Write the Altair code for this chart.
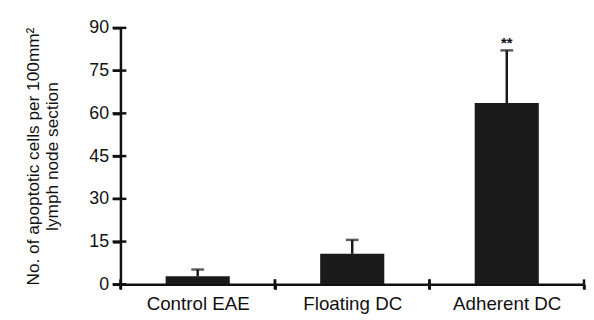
import altair as alt
import pandas as pd

categories = ["Control EAE", "Floating DC", "Adherent DC"]
means = [2.8, 10.7, 63.6]
upper = [5.2, 15.6, 82.1]
marks = ["", "", "**"]
y_ticks = [0, 15, 30, 45, 60, 75, 90]

df = pd.DataFrame({"cat": categories, "mean": means, "upper": upper, "mark": marks})
tick_df = pd.DataFrame({"v": y_ticks})

FONT = "Liberation Sans"
W, H = 470, 260

xscale = alt.Scale(domain=categories, paddingInner=0, paddingOuter=0)
yscale = alt.Scale(domain=[0, 90], nice=False)

title_line1 = "\u00a0" * 5 + "No. of apoptotic cells per 100mm²"

xenc = alt.X("cat:N", scale=xscale, sort=categories,
             axis=alt.Axis(title=None, labelAngle=0, labelFontSize=19, labelFont=FONT,
                           labelColor="#111", tickBand="extent", tickSize=5, tickWidth=2.5,
                           tickColor="#111", domainColor="#111", domainWidth=2.5,
                           labelPadding=6))
yenc = alt.Y("mean:Q", scale=yscale,
             axis=alt.Axis(values=y_ticks, title=[title_line1, "lymph node section"],
                           titleFontSize=17.5, titleFont=FONT, titleFontWeight="normal", titleColor="#111",
                           titlePadding=28, labelFontSize=18, labelFont=FONT, labelColor="#111",
                           tickSize=8, tickWidth=2.5, tickColor="#111", domainColor="#111",
                           domainWidth=2.5, labelPadding=4, grid=False))

bars = alt.Chart(df).mark_bar(size=65, color="#1a1a1a").encode(x=xenc, y=yenc)

err = alt.Chart(df).mark_rule(color="#1a1a1a", strokeWidth=2.5).encode(
    x=alt.X("cat:N", scale=xscale, sort=categories),
    y=alt.Y("mean:Q", scale=yscale),
    y2="upper:Q")

caps = alt.Chart(df).mark_tick(color="#1a1a1a", orient="horizontal", size=13, thickness=2.5).encode(
    x=alt.X("cat:N", scale=xscale, sort=categories),
    y=alt.Y("upper:Q", scale=yscale))

stars = alt.Chart(df).mark_text(fontSize=15, fontWeight="bold", font=FONT, dy=-7, color="#111").encode(
    x=alt.X("cat:N", scale=xscale, sort=categories),
    y=alt.Y("upper:Q", scale=yscale),
    text="mark:N")

ytick_in = alt.Chart(tick_df).mark_rule(color="#111", strokeWidth=2.5).encode(
    y=alt.Y("v:Q", scale=yscale), x=alt.value(-8), x2=alt.value(6))

xtick_a = alt.Chart(df).mark_rule(color="#111", strokeWidth=2.5).encode(
    x=alt.X("cat:N", scale=xscale, sort=categories, bandPosition=0),
    y=alt.value(H - 5), y2=alt.value(H + 5))
xtick_b = alt.Chart(df).mark_rule(color="#111", strokeWidth=2.5).encode(
    x=alt.X("cat:N", scale=xscale, sort=categories, bandPosition=1),
    y=alt.value(H - 5), y2=alt.value(H + 5))

chart = alt.layer(bars, err, caps, stars, ytick_in, xtick_a, xtick_b).properties(
    width=W, height=H,
    autosize=alt.AutoSizeParams(type="none"),
    padding={"left": 114, "top": 18, "right": 2, "bottom": 32},
    background="white",
).configure_view(stroke=None)

chart.save("out.html", embed_options={"renderer": "svg", "actions": False})
